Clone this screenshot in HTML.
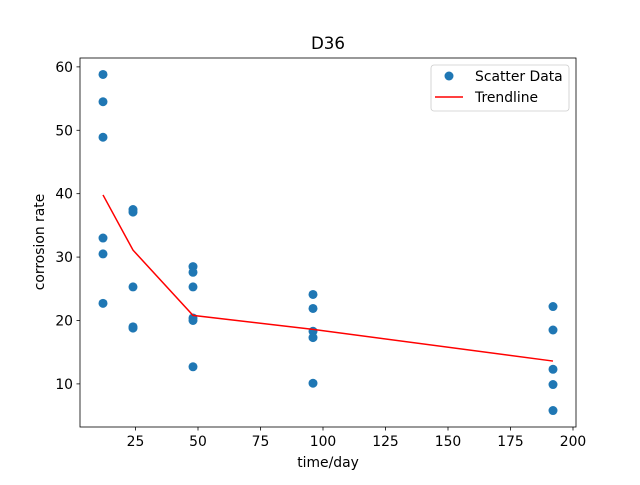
<!DOCTYPE html>
<html><head><meta charset="utf-8"><style>body{margin:0;background:#fff}svg{font-family:"DejaVu Sans","Liberation Sans",sans-serif}</style></head>
<body>
<svg id="c" width="640" height="480"></svg>
<script>
const scatterX=[12,12,12,12,12,12,24,24,24,24,24,48,48,48,48,48,48,96,96,96,96,96,192,192,192,192,192];
const scatterY=[58.8,54.5,48.9,33,30.5,22.7,37.5,37.1,25.3,19,18.8,28.5,27.6,25.3,20.4,20.0,12.7,24.1,21.9,18.3,17.3,10.1,22.2,18.5,12.3,9.9,5.8];
const trendX=[12,24,48,96,192];
const trendY=[39.8,31.1,20.8,18.6,13.6];
const xTicks=[25,50,75,100,125,150,175,200];
const yTicks=[10,20,30,40,50,60];
const L=80,R=576,T=58,B=427,xmin=2.8,xmax=201.2,ymin=3.2,ymax=61.4;
const sx=v=>L+(v-xmin)/(xmax-xmin)*(R-L);
const sy=v=>B-(v-ymin)/(ymax-ymin)*(B-T);
const svg=document.getElementById('c');const NS='http://www.w3.org/2000/svg';
function mk(t,a,p){const e=document.createElementNS(NS,t);for(const k in a)e.setAttribute(k,a[k]);(p||svg).appendChild(e);return e;}
let e;
e=mk('rect',{x:L,y:T,width:R-L,height:B-T,fill:'none',stroke:'#000','stroke-width':0.8});


xTicks.forEach(v=>{const x=sx(v);
e=mk('line',{x1:x,x2:x,y1:B,y2:B+3.5,stroke:'#000','stroke-width':0.8});


e=mk('text',{x:x,y:B+19,'font-size':13.9,'text-anchor':'middle'});e.textContent=v;

});
yTicks.forEach(v=>{const y=sy(v);
e=mk('line',{x1:L-3.5,x2:L,y1:y,y2:y,stroke:'#000','stroke-width':0.8});


e=mk('text',{x:L-7,y:y+5,'font-size':13.9,'text-anchor':'end'});e.textContent=v;

});
scatterX.forEach((v,i)=>{e=mk('circle',{cx:sx(v),cy:sy(scatterY[i]),r:4.5,fill:'#1f77b4'});

});
e=mk('polyline',{points:trendX.map((v,i)=>sx(v)+','+sy(trendY[i])).join(' '),fill:'none',stroke:'#ff0000','stroke-width':1.5});


e=mk('text',{x:328,y:49,'font-size':16.7,'text-anchor':'middle'});e.textContent='D36';


e=mk('text',{x:328,y:467,'font-size':13.9,'text-anchor':'middle'});e.textContent='time/day';


e=mk('text',{x:44,y:242,'font-size':13.9,'text-anchor':'middle',transform:'rotate(-90 44 242)'});e.textContent='corrosion rate';


const lg=mk('g',{});


mk('rect',{x:431,y:65,width:138,height:46,rx:3,fill:'#fff',stroke:'#ccc','stroke-width':0.8},lg);
e=mk('circle',{cx:449,cy:76,r:4.5,fill:'#1f77b4'},lg);


e=mk('text',{x:475,y:81,'font-size':13.9},lg);e.textContent='Scatter Data';


e=mk('line',{x1:435,x2:463,y1:97,y2:97,stroke:'#ff0000','stroke-width':1.5},lg);


e=mk('text',{x:475,y:102,'font-size':13.9},lg);e.textContent='Trendline';


</script>
</body></html>
